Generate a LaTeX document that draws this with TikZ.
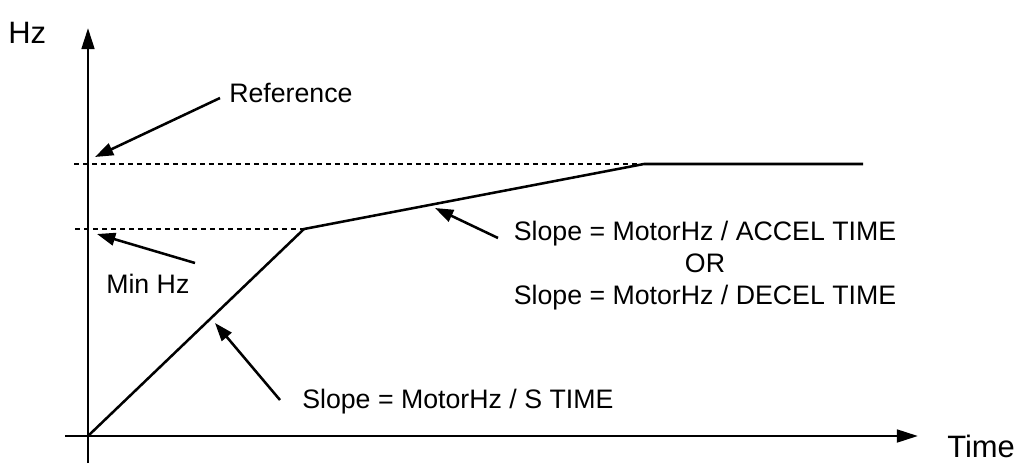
\documentclass[tikz,border=0pt]{standalone}
\usepackage{fontspec}
\setmainfont{Liberation Sans}
\usetikzlibrary{arrows.meta, positioning}

\begin{document}
\begin{tikzpicture}[
	x=0.025cm, y=-0.025cm,
	axis/.style={line width=2pt, -{Triangle[length=15pt, width=9pt]}},
	ramp/.style={line width=1.8pt},
	level/.style={line width=1.6pt, dash pattern=on 3.6pt off 2.8pt},
	callout/.style={line width=1.8pt, -{Triangle[length=13pt, width=9pt]}},
	every node/.style={inner sep=0pt, font=\fontsize{19}{22.7}\selectfont},
	]
	\useasboundingbox (0,0) rectangle (1018,465);
	
	% axes
	\coordinate (o) at (88,436);
	\coordinate (ybot) at (88,463);
	\coordinate (ytop) at (88,28);
	\coordinate (xleft) at (65,436);
	\coordinate (xright) at (918,436);
	\draw[axis] (ybot) -- (ytop);
	\draw[axis] (xleft) -- (xright);
	\node[font=\fontsize{22}{26}\selectfont, anchor=west] (hz) at (8,33) {Hz};
	\node[font=\fontsize{22}{26}\selectfont, anchor=west] (time) at (947,446) {Time};
	
	% frequency profile
	\coordinate (knee) at (304,229);
	\coordinate (top) at (644,164);
	\coordinate (end) at (863,164);
	\draw[level] (74,164) coordinate (refl) -- (top);
	\draw[level] (75,229) coordinate (minl) -- (knee);
	\draw[ramp] (o) -- (knee) -- (top) -- (end);
	
	% labels
	\node[anchor=west] (ref) at (229,93) {Reference};
	\node[anchor=west] (minhz) at (106,284) {Min Hz};
	\node[anchor=west] (stime) at (302,402) {Slope = MotorHz / S TIME};
	\node[align=center] (accel) at (705,266) {Slope = MotorHz / ACCEL TIME\\OR\\Slope = MotorHz / DECEL TIME};
	
	% callouts
	\draw[callout] (220,98) -- (95,157);
	\draw[callout] (195,263) -- (97,234);
	\draw[callout] (280,400) -- (215,323);
	\draw[callout] (498,238) -- (435,208);
	
\end{tikzpicture}
\end{document}
